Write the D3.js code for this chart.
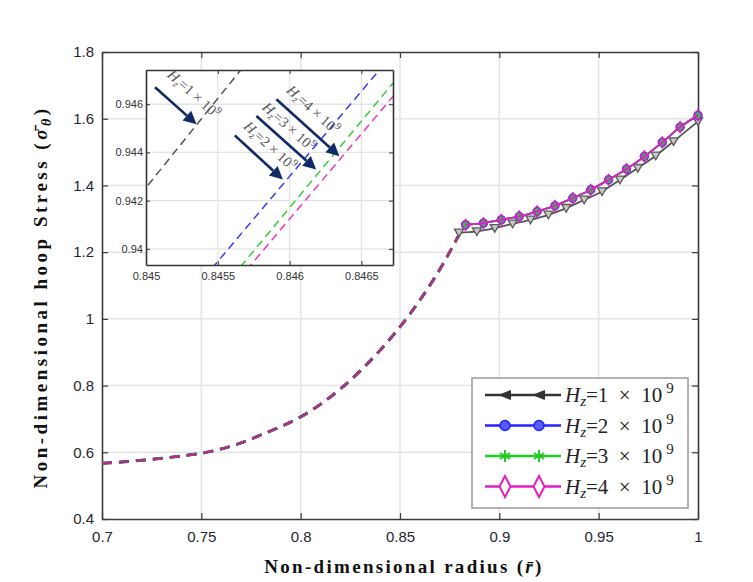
<!DOCTYPE html>
<html><head><meta charset="utf-8">
<script src="https://cdn.jsdelivr.net/npm/d3@7"></script>
<style>body{margin:0;background:#fff}</style>
</head><body>
<svg id="c" width="753" height="582"></svg>
<script>
// ---------- data ----------
const xTicks = [0.7, 0.75, 0.8, 0.85, 0.9, 0.95, 1];
const xTickLabels = ["0.7", "0.75", "0.8", "0.85", "0.9", "0.95", "1"];
const yTicks = [0.4, 0.6, 0.8, 1.0, 1.2, 1.4, 1.6, 1.8];
const yTickLabels = ["0.4", "0.6", "0.8", "1", "1.2", "1.4", "1.6", "1.8"];

const dashedRadius = [0.70, 0.71, 0.72, 0.73, 0.74, 0.75, 0.76, 0.77, 0.78, 0.79, 0.80, 0.81, 0.82, 0.83, 0.84, 0.85, 0.86, 0.87, 0.88];
const dashedStress = [0.567, 0.571, 0.576, 0.582, 0.589, 0.597, 0.610, 0.628, 0.652, 0.677, 0.706, 0.744, 0.790, 0.844, 0.906, 0.976, 1.056, 1.148, 1.255];

const hz1Radius = [0.8797, 0.8887, 0.8977, 0.9067, 0.9157, 0.9247, 0.9337, 0.9427, 0.9517, 0.9607, 0.9697, 0.9787, 0.9877, 1.0];
const hz1Stress = [1.258, 1.262, 1.272, 1.285, 1.297, 1.312, 1.332, 1.357, 1.382, 1.417, 1.452, 1.489, 1.532, 1.592];

const hzRadius = [0.883, 0.892, 0.901, 0.910, 0.919, 0.928, 0.937, 0.946, 0.955, 0.964, 0.973, 0.982, 0.991, 1.0];
const hz2Stress = [1.282, 1.287, 1.297, 1.307, 1.322, 1.339, 1.362, 1.387, 1.417, 1.449, 1.487, 1.529, 1.575, 1.610];
const hz3Stress = [1.282, 1.287, 1.297, 1.307, 1.322, 1.339, 1.362, 1.387, 1.417, 1.449, 1.487, 1.529, 1.575, 1.610];
const hz4Stress = [1.282, 1.287, 1.297, 1.307, 1.322, 1.339, 1.362, 1.387, 1.417, 1.449, 1.487, 1.529, 1.575, 1.610];

const hzValues = ["1", "2", "3", "4"];

// inset
const insetXTicks = [0.845, 0.8455, 0.846, 0.8465];
const insetXTickLabels = ["0.845", "0.8455", "0.846", "0.8465"];
const insetYTicks = [0.940, 0.942, 0.944, 0.946];
const insetYTickLabels = ["0.94", "0.942", "0.944", "0.946"];
const insetHz1Radius = [0.8449, 0.8457];
const insetHz1Stress = [0.9418, 0.94772];
const insetHz2Radius = [0.8454, 0.8467];
const insetHz2Stress = [0.93877, 0.94795];
const insetHz3Radius = [0.8456, 0.8468];
const insetHz3Stress = [0.93884, 0.94745];
const insetHz4Radius = [0.8457, 0.8468];
const insetHz4Stress = [0.93912, 0.94689];
// annotation arrows and label centres, in inset data units
const arrowStartR = [0.845063, 0.845618, 0.845769, 0.845908];
const arrowStartS = [0.946708, 0.944708, 0.945513, 0.946208];
const arrowEndR = [0.845352, 0.845953, 0.846185, 0.846347];
const arrowEndS = [0.945167, 0.942875, 0.943292, 0.943846];
const labelR = [0.845330, 0.845860, 0.845990, 0.846160];
const labelS = [0.94640, 0.944250, 0.945050, 0.945750];

// ---------- drawing ----------
const svg = d3.select("#c");
const L = 102, R = 698, T = 52, B = 519;
const x = d3.scaleLinear().domain([0.7, 1]).range([L, R]);
const y = d3.scaleLinear().domain([0.4, 1.8]).range([B, T]);
const tickFont = "Liberation Sans, Arial, sans-serif";
const serif = "Liberation Serif, Times New Roman, serif";
const frameCol = "#3a3a3a";
const gridCol = "#e4e4e4";

svg.append("rect").attr("width", 753).attr("height", 582).attr("fill", "#fff");

// grid
svg.append("g").selectAll("line").data(xTicks.slice(1, -1)).join("line")
  .attr("x1", d => x(d)).attr("x2", d => x(d)).attr("y1", T).attr("y2", B)
  .attr("stroke", gridCol).attr("stroke-width", 1.5);
svg.append("g").selectAll("line").data(yTicks.slice(1, -1)).join("line")
  .attr("y1", d => y(d)).attr("y2", d => y(d)).attr("x1", L).attr("x2", R)
  .attr("stroke", gridCol).attr("stroke-width", 1.5);

// axes
const gx = svg.append("g").attr("transform", `translate(0,${B})`)
  .call(d3.axisBottom(x).tickValues(xTicks).tickFormat((d, i) => xTickLabels[i]).tickSizeInner(-6).tickSizeOuter(0).tickPadding(12));
const gxTop = svg.append("g").attr("transform", `translate(0,${T})`)
  .call(d3.axisTop(x).tickValues(xTicks).tickFormat("").tickSizeInner(-6).tickSizeOuter(0));
const gy = svg.append("g").attr("transform", `translate(${L},0)`)
  .call(d3.axisLeft(y).tickValues(yTicks).tickFormat((d, i) => yTickLabels[i]).tickSizeInner(-6).tickSizeOuter(0).tickPadding(8));
const gyR = svg.append("g").attr("transform", `translate(${R},0)`)
  .call(d3.axisRight(y).tickValues(yTicks).tickFormat("").tickSizeInner(-6).tickSizeOuter(0));
[gx, gxTop, gy, gyR].forEach(g => {
  g.select(".domain").attr("stroke", frameCol).attr("stroke-width", 1.6);
  g.selectAll(".tick line").attr("stroke", frameCol).attr("stroke-width", 1.2);
  g.selectAll("text").attr("font-family", tickFont).attr("font-size", 15).attr("fill", "#262633");
});

// main curves (dashed part, all four series overlap)
const lineGen = d3.line().x(d => x(d[0])).y(d => y(d[1])).curve(d3.curveMonotoneX);
const dashCols = ["#333333", "#2020ff", "#20c020", "#b82a90"];
const dashWidths = [3, 2.4, 2.4, 2.3];
dashCols.forEach((c, i) => {
  svg.append("path").datum(dashedRadius.map((r, k) => [r, dashedStress[k]]))
    .attr("d", lineGen).attr("fill", "none").attr("stroke", c).attr("stroke-width", dashWidths[i])
    .attr("stroke-dasharray", "10,7");
});

const sym = {
  tri: (s) => `M${-s},${-s * 0.8}L${s},${-s * 0.8}L0,${s * 0.9}Z`,
  triLeft: (s) => `M${-s},0L${s},${-s * 0.8}L${s},${s * 0.8}Z`,
  star: (s) => { let p = ""; for (let a = 0; a < 3; a++) { const t = Math.PI / 2 + a * Math.PI / 3; p += `M${s * Math.cos(t)},${-s * Math.sin(t)}L${-s * Math.cos(t)},${s * Math.sin(t)}`; } return p; },
  diamond: (w, h) => `M0,${-h}L${w},0L0,${h}L${-w},0Z`
};

// Hz=1 series
svg.append("path").datum(hz1Radius.map((r, k) => [r, hz1Stress[k]])).attr("d", lineGen)
  .attr("fill", "none").attr("stroke", "#555").attr("stroke-width", 1.8);
svg.append("g").selectAll("path").data(hz1Radius.map((r, k) => [r, hz1Stress[k]])).join("path")
  .attr("transform", d => `translate(${x(d[0])},${y(d[1])})`).attr("d", sym.tri(4.5))
  .attr("fill", "#c8c8c8").attr("stroke", "#5a5a5a").attr("stroke-width", 1.3);

const colored = [
  {s: hz2Stress, c: "#2222ff"},
  {s: hz3Stress, c: "#22cc22"},
  {s: hz4Stress, c: "#e020c0"}
];
colored.forEach((ser, i) => {
  const pts = hzRadius.map((r, k) => [r, ser.s[k]]);
  svg.append("path").datum(pts).attr("d", lineGen).attr("fill", "none").attr("stroke", ser.c).attr("stroke-width", 1.8);
  const g = svg.append("g").selectAll("path").data(pts).join("path")
    .attr("transform", d => `translate(${x(d[0])},${y(d[1])})`);
  if (i === 0) g.attr("d", "M-4,0a4,4 0 1,0 8,0a4,4 0 1,0 -8,0").attr("fill", "#6a6aff").attr("stroke", ser.c).attr("stroke-width", 1.3);
  if (i === 1) g.attr("d", sym.star(3.5)).attr("fill", "none").attr("stroke", ser.c).attr("stroke-width", 1.5);
  if (i === 2) g.attr("d", sym.diamond(4, 5.5)).attr("fill", "none").attr("stroke", ser.c).attr("stroke-width", 1.3);
});

// axis labels
svg.append("text").attr("x", 404).attr("y", 573).attr("text-anchor", "middle")
  .attr("font-family", serif).attr("font-weight", "bold").attr("font-size", 19).attr("letter-spacing", 2.3)
  .attr("fill", "#111")
  .call(t => {
    t.append("tspan").text("Non-dimensional radius (");
    t.append("tspan").attr("font-style", "italic").text("r\u0304");
    t.append("tspan").text(")");
  });
svg.append("text").attr("transform", "translate(47,297) rotate(-90)").attr("text-anchor", "middle")
  .attr("font-family", serif).attr("font-weight", "bold").attr("font-size", 19).attr("letter-spacing", 3.5)
  .attr("fill", "#111")
  .call(t => {
    t.append("tspan").text("Non-dimensional hoop Stress (");
    t.append("tspan").attr("font-style", "italic").text("\u03C3\u0304");
    t.append("tspan").attr("font-style", "italic").attr("font-size", 14).attr("dy", 4).text("\u03B8");
    t.append("tspan").attr("dy", -4).text(")");
  });

// legend
const lg = svg.append("g");
lg.append("rect").attr("x", 472).attr("y", 378).attr("width", 216).attr("height", 130)
  .attr("fill", "#fff").attr("stroke", "#9a9a9a").attr("stroke-width", 1.5);
const legCols = ["#333333", "#2222ff", "#22cc22", "#e020c0"];
hzValues.forEach((v, i) => {
  const yy = 395 + i * 30.5;
  lg.append("line").attr("x1", 485).attr("x2", 561).attr("y1", yy).attr("y2", yy)
    .attr("stroke", legCols[i]).attr("stroke-width", 2.6);
  [505, 539].forEach(mx => {
    const m = lg.append("path").attr("transform", `translate(${mx},${yy})`);
    if (i === 0) m.attr("d", sym.triLeft(5.5)).attr("fill", "#333").attr("stroke", "#333");
    if (i === 1) m.attr("d", "M-5,0a5,5 0 1,0 10,0a5,5 0 1,0 -10,0").attr("fill", "#5a5aff").attr("stroke", "#2222ff").attr("stroke-width", 1.5);
    if (i === 2) m.attr("d", sym.star(6)).attr("fill", "none").attr("stroke", "#22cc22").attr("stroke-width", 2);
    if (i === 3) m.attr("d", sym.diamond(5.5, 10.5)).attr("fill", "#fff").attr("stroke", "#e020c0").attr("stroke-width", 2);
  });
  const t = lg.append("text").attr("x", 565).attr("y", yy + 7).attr("font-family", serif).attr("font-size", 21).attr("fill", "#222");
  t.append("tspan").attr("font-style", "italic").text("H");
  t.append("tspan").attr("font-style", "italic").attr("font-size", 15).attr("dy", 4).text("z");
  t.append("tspan").attr("dy", -4).text(`=${v}\u2002\u00D7\u2005 10`);
  t.append("tspan").attr("font-size", 15).attr("dx", 4).attr("dy", -9).text("9");
});

// ---------- inset ----------
const iL = 146, iR = 393, iT = 70, iB = 265;
const ix = d3.scaleLinear().domain([0.845, 0.84672]).range([iL, iR]);
const iy = d3.scaleLinear().domain([0.93933, 0.94742]).range([iB, iT]);
const ins = svg.append("g");
ins.append("rect").attr("x", iL).attr("y", iT).attr("width", iR - iL).attr("height", iB - iT).attr("fill", "#fff");
ins.append("g").selectAll("line").data(insetXTicks.slice(1)).join("line")
  .attr("x1", d => ix(d)).attr("x2", d => ix(d)).attr("y1", iT).attr("y2", iB).attr("stroke", gridCol).attr("stroke-width", 1.3);
ins.append("g").selectAll("line").data(insetYTicks).join("line")
  .attr("y1", d => iy(d)).attr("y2", d => iy(d)).attr("x1", iL).attr("x2", iR).attr("stroke", gridCol).attr("stroke-width", 1.3);
svg.append("clipPath").attr("id", "ic").append("rect").attr("x", iL).attr("y", iT).attr("width", iR - iL).attr("height", iB - iT);
const iline = d3.line().x(d => ix(d[0])).y(d => iy(d[1]));
const insetSeries = [
  [insetHz1Radius, insetHz1Stress, "#555555"],
  [insetHz2Radius, insetHz2Stress, "#3a3aff"],
  [insetHz3Radius, insetHz3Stress, "#33cc33"],
  [insetHz4Radius, insetHz4Stress, "#ee33bb"]
];
insetSeries.forEach(([rs, ss, c]) => {
  ins.append("path").datum(rs.map((r, k) => [r, ss[k]])).attr("d", iline).attr("clip-path", "url(#ic)")
    .attr("fill", "none").attr("stroke", c).attr("stroke-width", 1.5).attr("stroke-dasharray", "8,5");
});
const igx = ins.append("g").attr("transform", `translate(0,${iB})`)
  .call(d3.axisBottom(ix).tickValues(insetXTicks).tickFormat((d, i) => insetXTickLabels[i]).tickSizeInner(-4).tickSizeOuter(0).tickPadding(7));
const igxT = ins.append("g").attr("transform", `translate(0,${iT})`)
  .call(d3.axisTop(ix).tickValues(insetXTicks).tickFormat("").tickSizeInner(-4).tickSizeOuter(0));
const igy = ins.append("g").attr("transform", `translate(${iL},0)`)
  .call(d3.axisLeft(iy).tickValues(insetYTicks).tickFormat((d, i) => insetYTickLabels[i]).tickSizeInner(-4).tickSizeOuter(0).tickPadding(3));
const igyR = ins.append("g").attr("transform", `translate(${iR},0)`)
  .call(d3.axisRight(iy).tickValues(insetYTicks).tickFormat("").tickSizeInner(-4).tickSizeOuter(0));
[igx, igxT, igy, igyR].forEach(g => {
  g.select(".domain").attr("stroke", "#333").attr("stroke-width", 1.6);
  g.selectAll(".tick line").attr("stroke", "#333");
  g.selectAll("text").attr("font-family", tickFont).attr("font-size", 11).attr("fill", "#333");
});

// arrows
const navy = "#0f2a66";
hzValues.forEach((v, i) => {
  const x1 = ix(arrowStartR[i]), y1 = iy(arrowStartS[i]), x2 = ix(arrowEndR[i]), y2 = iy(arrowEndS[i]);
  const ang = Math.atan2(y2 - y1, x2 - x1);
  const hl = 13, hw = 6.5;
  const bx = x2 - hl * Math.cos(ang), by = y2 - hl * Math.sin(ang);
  ins.append("line").attr("x1", x1).attr("y1", y1).attr("x2", bx).attr("y2", by)
    .attr("stroke", navy).attr("stroke-width", 2.6);
  ins.append("path").attr("d", `M${x2},${y2}L${bx + hw * Math.sin(ang)},${by - hw * Math.cos(ang)}L${bx - hw * Math.sin(ang)},${by + hw * Math.cos(ang)}Z`)
    .attr("fill", navy);
  const deg = ang * 180 / Math.PI;
  const t = ins.append("text").attr("transform", `translate(${ix(labelR[i])},${iy(labelS[i])}) rotate(${deg})`)
    .attr("text-anchor", "middle").attr("dy", 4).attr("font-family", serif).attr("font-size", 14.5).attr("fill", "#555");
  t.append("tspan").attr("font-style", "italic").text("H");
  t.append("tspan").attr("font-style", "italic").attr("font-size", 10).attr("dy", 3).text("z");
  t.append("tspan").attr("dy", -3).text(`=${v} \u00D7 10`);
  t.append("tspan").attr("font-size", 10).attr("dy", -6).text("9");
});
</script>
</body></html>
